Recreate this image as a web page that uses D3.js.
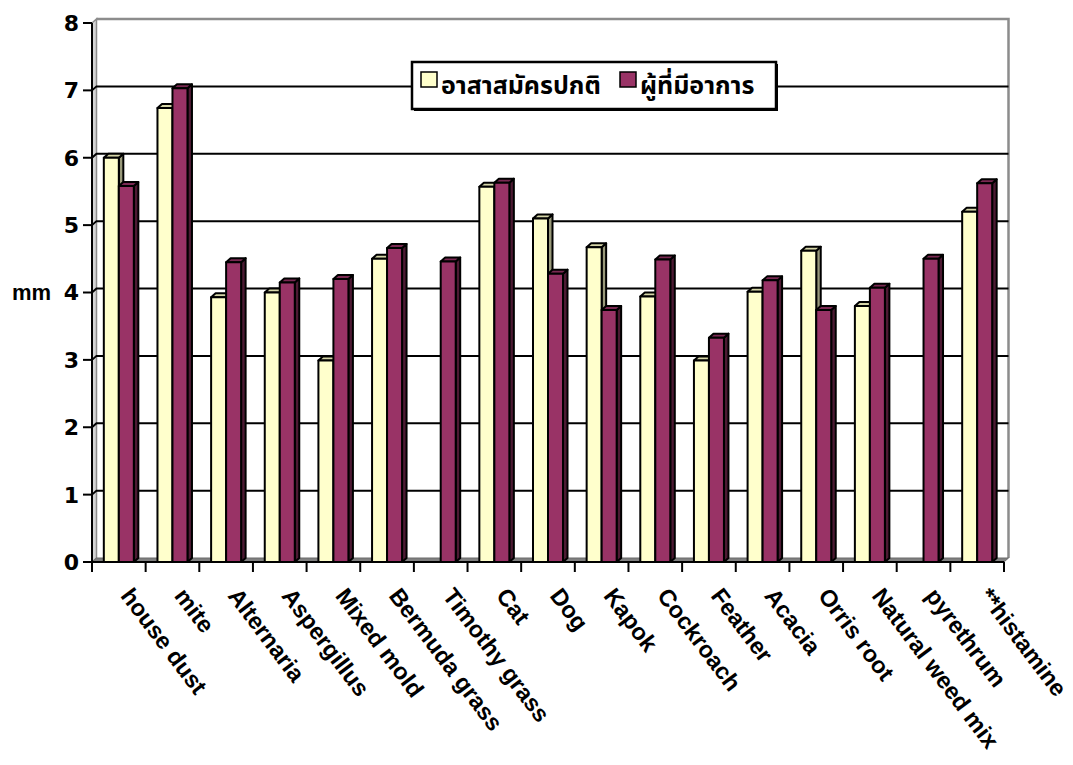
<!DOCTYPE html>
<html>
<head>
<meta charset="utf-8">
<script src="https://cdn.jsdelivr.net/npm/d3@7"></script>
<style>
  body { margin: 0; background: #fff; }
  text { font-family: "Liberation Sans", Arial, sans-serif; font-weight: bold; fill: #000; }
  .tick-label { font-family: "DejaVu Sans", "Liberation Sans", sans-serif; }
  .thai { font-family: Tahoma, "Noto Sans Thai", "DejaVu Sans", "Noto Sans", sans-serif; }
</style>
</head>
<body>
<svg id="chart" width="1073" height="765"></svg>
<script>
// Allergen skin-test wheal sizes (mm)
const categories = ["house dust", "mite", "Alternaria", "Aspergillus", "Mixed mold", "Bermuda grass",
  "Timothy grass", "Cat", "Dog", "Kapok", "Cockroach", "Feather", "Acacia", "Orris root",
  "Natural weed mix", "pyrethrum", "**histamine"];
const normalValues  = [6.0, 6.74, 3.93, 4.0, 2.99, 4.5, null, 5.57, 5.1, 4.67, 3.94, 2.99, 4.01, 4.62, 3.8, null, 5.2];
const patientValues = [5.58, 7.03, 4.45, 4.15, 4.2, 4.66, 4.46, 5.63, 4.28, 3.74, 4.49, 3.33, 4.18, 3.74, 4.07, 4.5, 5.62];
const seriesNames = ["อาสาสมัครปกติ", "ผู้ที่มีอาการ"];
const yTicks = [0, 1, 2, 3, 4, 5, 6, 7, 8];
const yLabel = "mm";

const seriesColors = [
  { front: "#FFFFCC", top: "#D6D6A8", side: "#99997A" },
  { front: "#993366", top: "#7A2952", side: "#4D1A33" }
];

const svg = d3.select("#chart");
const plotLeft = 92, plotRight = 1004, plotBottom = 562, plotTop = 23;
const dx = 4.5, dy = 4;           // depth offset of the 3-D walls and bars

const x = d3.scaleBand().domain(categories).range([plotLeft, plotRight]).padding(0);
const xs = d3.scaleBand().domain(seriesNames).range([-15, 15]).padding(0);
const y = d3.scaleLinear().domain([0, 8]).range([plotBottom, plotTop]);

// left wall
svg.append("path")
  .attr("d", `M${plotLeft},${y(8)}L${plotLeft + dx},${y(8) - dy}L${plotLeft + dx},${plotBottom - dy}L${plotLeft},${plotBottom}Z`)
  .attr("fill", "#d4d4d4").attr("stroke", "#8c8c8c").attr("stroke-width", 1.5);

// back wall edges
svg.append("path")
  .attr("d", `M${plotLeft + dx},${y(8) - dy}H${plotRight + dx}V${plotBottom - dy}`)
  .attr("fill", "none").attr("stroke", "#8c8c8c").attr("stroke-width", 2.5);

// gridlines on the back wall, joined to the axis across the left wall
yTicks.filter(v => v > 0 && v < 8).forEach(v => {
  svg.append("path")
    .attr("d", `M${plotLeft},${y(v)}L${plotLeft + dx},${y(v) - dy}H${plotRight + dx}`)
    .attr("fill", "none").attr("stroke", "#000").attr("stroke-width", 2);
});

// floor
svg.append("path")
  .attr("d", `M${plotLeft},${plotBottom}L${plotLeft + dx},${plotBottom - dy}H${plotRight + dx}L${plotRight},${plotBottom}Z`)
  .attr("fill", "#808080").attr("stroke", "#6a6a6a").attr("stroke-width", 1);

// bars
const seriesData = [normalValues, patientValues];
seriesNames.forEach((name, si) => {
  const c = seriesColors[si];
  const g = svg.append("g");
  categories.forEach((cat, i) => {
    const v = seriesData[si][i];
    if (v == null) return;
    const x0 = x(cat) + x.bandwidth() / 2 + xs(name);
    const w = xs.bandwidth();
    const yv = y(v);
    const bar = g.append("g").attr("stroke", "#000").attr("stroke-width", 2).attr("stroke-linejoin", "round");
    bar.append("path")
      .attr("d", `M${x0 + w},${yv}L${x0 + w + dx},${yv - dy}V${plotBottom - dy}L${x0 + w},${plotBottom}Z`)
      .attr("fill", c.side);
    bar.append("path")
      .attr("d", `M${x0},${yv}L${x0 + dx},${yv - dy}H${x0 + w + dx}L${x0 + w},${yv}Z`)
      .attr("fill", c.top);
    bar.append("rect")
      .attr("x", x0).attr("y", yv).attr("width", w).attr("height", plotBottom - yv)
      .attr("fill", c.front);
  });
});

// axes
svg.append("line").attr("x1", plotLeft).attr("x2", plotLeft).attr("y1", y(8)).attr("y2", plotBottom)
  .attr("stroke", "#000").attr("stroke-width", 2);
svg.append("line").attr("x1", plotLeft).attr("x2", plotRight).attr("y1", plotBottom).attr("y2", plotBottom)
  .attr("stroke", "#000").attr("stroke-width", 2);

yTicks.forEach(v => {
  svg.append("line").attr("x1", plotLeft - 9).attr("x2", plotLeft).attr("y1", y(v)).attr("y2", y(v))
    .attr("stroke", "#000").attr("stroke-width", 2);
  svg.append("text").attr("class", "tick-label").attr("x", plotLeft - 13).attr("y", y(v)).attr("dy", "0.36em")
    .attr("text-anchor", "end").attr("font-size", 22).text(v);
});

const xTickPos = categories.map(c => x(c)).concat([plotRight]);
xTickPos.forEach(px => {
  svg.append("line").attr("x1", px).attr("x2", px).attr("y1", plotBottom).attr("y2", plotBottom + 10)
    .attr("stroke", "#000").attr("stroke-width", 2);
});

categories.forEach(cat => {
  const cx = x(cat) + x.bandwidth() / 2;
  svg.append("text")
    .attr("transform", `translate(${cx + 1},${plotBottom + 34}) rotate(53)`)
    .attr("font-size", 23.5).text(cat);
});

svg.append("text").attr("x", 12).attr("y", y(4)).attr("dy", "0.36em")
  .attr("font-size", 22).text(yLabel);

// legend
const legend = svg.append("g");
legend.append("rect").attr("x", 414).attr("y", 64).attr("width", 364).attr("height", 47)
  .attr("fill", "#000");
legend.append("rect").attr("x", 412).attr("y", 62).attr("width", 364).attr("height", 47)
  .attr("fill", "#fff").attr("stroke", "#000").attr("stroke-width", 2.5);
const legendX = [421, 620];
seriesNames.forEach((name, si) => {
  legend.append("rect").attr("x", legendX[si]).attr("y", 72).attr("width", 16).attr("height", 15)
    .attr("fill", seriesColors[si].front).attr("stroke", "#000").attr("stroke-width", 1.5);
  legend.append("text").attr("class", "thai").attr("x", legendX[si] + 20).attr("y", 94)
    .attr("font-size", 25).text(name);
});
</script>
</body>
</html>
